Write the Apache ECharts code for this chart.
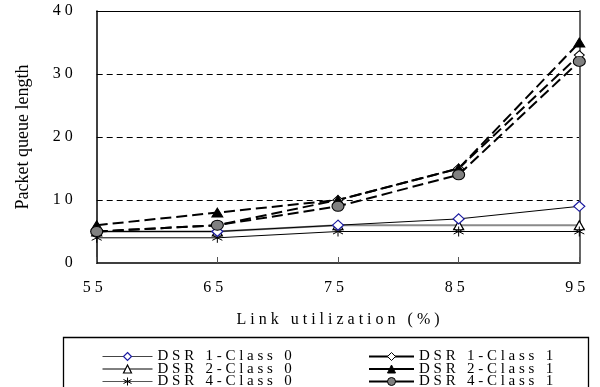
<!DOCTYPE html>
<html>
<head>
<meta charset="utf-8">
<script src="https://cdn.jsdelivr.net/npm/echarts@6/dist/echarts.min.js"></script>
<style>
html,body{margin:0;padding:0;background:#fff;}
#chart{width:600px;height:387px;}
</style>
</head>
<body>
<div id="chart"></div>
<script>
// ---- data ----
var categories = ['55', '65', '75', '85', '95'];
var yTicks = [0, 10, 20, 30, 40];
var dsr1Class0 = [5, 5, 6, 7, 9];
var dsr2Class0 = [5, 5, 6, 6, 6];
var dsr4Class0 = [4, 4, 5, 5, 5];
var dsr1Class1 = [5, 6, 10, 15, 33];
var dsr2Class1 = [6, 8, 10, 15, 35];
var dsr4Class1 = [5, 6, 9, 14, 32];
var seriesNames = ['DSR 1-Class 0', 'DSR 2-Class 0', 'DSR 4-Class 0',
                   'DSR 1-Class 1', 'DSR 2-Class 1', 'DSR 4-Class 1'];
var xAxisTitle = 'Link utilization (%)';
var yAxisTitle = 'Packet queue length';

var FONT = '"Liberation Serif", "Times New Roman", serif';
function spaced(s) { return String(s).split('').join(' '); }
var asterisk = 'path://M5 0 L5 10 M0.7 2.5 L9.3 7.5 M0.7 7.5 L9.3 2.5';

var chart = echarts.init(document.getElementById('chart'), null, {renderer: 'canvas'});

var dashed = {type: [11, 5], width: 2, color: '#000'};

var legendOverrides = [
  {lineStyle: {color: '#444', width: 1}, itemStyle: {color: '#fff', borderColor: '#1a1aa0', borderWidth: 1.2}},
  {lineStyle: {color: '#000', width: 1}, itemStyle: {color: '#fff', borderColor: '#000', borderWidth: 1.2}},
  {lineStyle: {color: '#555', width: 1}, itemStyle: {color: '#000', borderColor: '#000', borderWidth: 1}},
  {lineStyle: {color: '#000', width: 2}, itemStyle: {color: '#fff', borderColor: '#000', borderWidth: 1}},
  {lineStyle: {color: '#000', width: 2}, itemStyle: {color: '#000', borderColor: '#000', borderWidth: 1}},
  {lineStyle: {color: '#000', width: 2}, itemStyle: {color: '#808080', borderColor: '#000', borderWidth: 1}}
];
var legends = seriesNames.map(function (n, i) {
  var col = i < 3 ? 0 : 1;
  var row = i % 3;
  var item = {name: n};
  for (var k in legendOverrides[i]) item[k] = legendOverrides[i][k];
  return {
    data: [item],
    orient: 'horizontal',
    left: col === 0 ? 102 : 368,
    top: 349 + row * 12.5,
    padding: 0,
    itemWidth: col === 0 ? 50 : 45,
    itemHeight: 10,
    lineStyle: {type: 'solid'},
    textStyle: {color: '#000', fontSize: 15, fontFamily: FONT, lineHeight: 12.5},
    formatter: function (nm) { return spaced(nm); }
  };
});

var option = {
  animation: false,
  backgroundColor: '#fff',
  textStyle: {fontFamily: FONT},
  grid: {left: 96.7, right: 20.7, top: 11, bottom: 124, containLabel: false},
  xAxis: [{
    type: 'category',
    data: categories,
    boundaryGap: false,
    position: 'bottom',
    axisLine: {lineStyle: {color: '#000', width: 1.5}},
    axisTick: {show: true, inside: true, length: 6, lineStyle: {color: '#555', width: 1}},
    axisLabel: {color: '#000', fontSize: 16, fontFamily: FONT, margin: 17,
                padding: [0, 8, 0, 0],
                formatter: function (v) { return spaced(v); }},
    splitLine: {show: false},
    name: spaced(xAxisTitle),
    nameLocation: 'middle',
    nameGap: 49,
    nameTextStyle: {color: '#000', fontSize: 16, fontFamily: FONT}
  }, {
    type: 'category',
    data: categories,
    boundaryGap: false,
    position: 'top',
    axisLine: {show: true, onZero: false, lineStyle: {color: '#000', width: 1.2}},
    axisTick: {show: false},
    axisLabel: {show: false},
    z: 10
  }],
  yAxis: [{
    type: 'value',
    min: yTicks[0],
    max: yTicks[yTicks.length - 1],
    interval: 10,
    axisLine: {show: true, lineStyle: {color: '#000', width: 1.5}},
    axisTick: {show: false},
    axisLabel: {color: '#000', fontSize: 16, fontFamily: FONT, margin: 24,
                formatter: function (v) { return spaced(v); }},
    splitLine: {show: true, showMinLine: false, showMaxLine: false,
                lineStyle: {color: '#000', width: 1, type: [6, 4]}},
    name: yAxisTitle,
    nameLocation: 'middle',
    nameGap: 64,
    nameTextStyle: {color: '#000', fontSize: 18, fontFamily: FONT}
  }, {
    type: 'value',
    position: 'right',
    min: yTicks[0],
    max: yTicks[yTicks.length - 1],
    interval: 10,
    axisLine: {show: true, onZero: false, lineStyle: {color: '#666', width: 2}},
    axisTick: {show: false},
    axisLabel: {show: false},
    splitLine: {show: false}
  }],
  legend: legends,
  graphic: [{
    type: 'rect',
    silent: true,
    shape: {x: 63.5, y: 337.5, width: 525, height: 80},
    style: {fill: 'none', stroke: '#000', lineWidth: 1.3}
  }],
  series: [
    {
      name: seriesNames[0], type: 'line', data: dsr1Class0,
      symbol: 'diamond', symbolSize: [11, 10],
      lineStyle: {color: '#000', width: 1},
      itemStyle: {color: '#fff', borderColor: '#1a1aa0', borderWidth: 1.2},
      z: 3
    },
    {
      name: seriesNames[1], type: 'line', data: dsr2Class0,
      symbol: 'triangle', symbolSize: [10, 9],
      lineStyle: {color: '#8a8a8a', width: 2},
      itemStyle: {color: '#fff', borderColor: '#000', borderWidth: 1.2},
      z: 2
    },
    {
      name: seriesNames[2], type: 'line', data: dsr4Class0,
      symbol: asterisk, symbolSize: [10, 10],
      lineStyle: {color: '#000', width: 1},
      itemStyle: {color: '#000', borderColor: '#000', borderWidth: 1},
      z: 2
    },
    {
      name: seriesNames[3], type: 'line', data: dsr1Class1,
      symbol: 'diamond', symbolSize: [10, 9],
      lineStyle: dashed,
      itemStyle: {color: '#fff', borderColor: '#000', borderWidth: 1},
      z: 4
    },
    {
      name: seriesNames[4], type: 'line', data: dsr2Class1,
      symbol: 'triangle', symbolSize: [11, 9],
      lineStyle: dashed,
      itemStyle: {color: '#000', borderColor: '#000', borderWidth: 1},
      z: 4
    },
    {
      name: seriesNames[5], type: 'line', data: dsr4Class1,
      symbol: 'circle', symbolSize: [12, 10],
      lineStyle: dashed,
      itemStyle: {color: '#808080', borderColor: '#000', borderWidth: 1},
      z: 5
    }
  ]
};
chart.setOption(option);
</script>
</body>
</html>
